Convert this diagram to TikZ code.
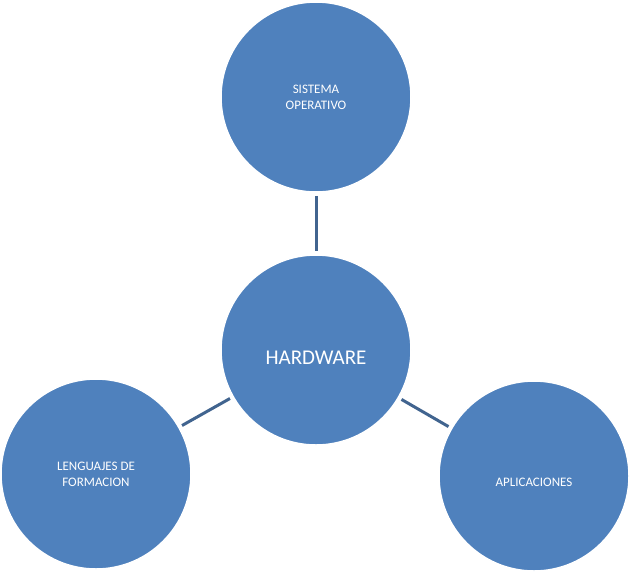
\documentclass[tikz,border=0pt]{standalone}
\usepackage{fontspec}
\setmainfont{Carlito}
\begin{document}
\begin{tikzpicture}[x=1pt,y=-1pt,
  bub/.style={circle,fill={rgb,255:red,79;green,129;blue,189},draw=white,line width=1.5pt,minimum size=190pt,inner sep=0pt,text=white,align=center,font=\fontsize{13}{16}\selectfont},
  link/.style={draw={rgb,255:red,65;green,100;blue,143},line width=3pt,shorten <=3pt,shorten >=3pt}]
\useasboundingbox (0,0) rectangle (632,571);
\node[bub] (so) at (316,97) {SISTEMA\\OPERATIVO};
\node[bub,font=\fontsize{21}{24}\selectfont] (hw) at (316,350) {\\[4pt]HARDWARE};
\node[bub] (lf) at (96,474) {LENGUAJES DE\\FORMACION};
\node[bub] (ap) at (534,476) {\\[6pt]APLICACIONES};
\draw[link] (so) -- (hw);
\draw[link] (hw) -- (lf);
\draw[link] (hw) -- (ap);
\end{tikzpicture}
\end{document}
